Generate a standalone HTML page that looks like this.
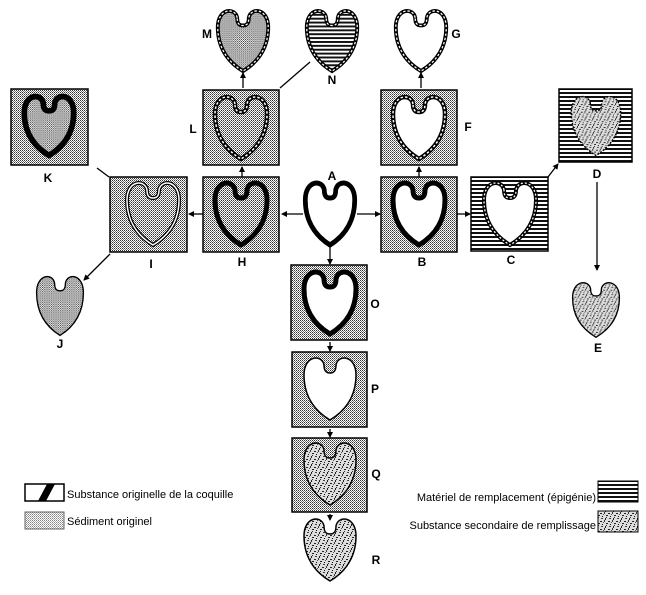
<!DOCTYPE html>
<html><head><meta charset="utf-8"><style>
html,body{margin:0;padding:0;background:#fff;}
svg{display:block;}
text{font-family:"Liberation Sans",sans-serif;}
.lbl{font-size:12px;font-weight:bold;text-anchor:middle;}
.leg{font-size:11px;}
</style></head><body>
<svg width="646" height="595" viewBox="0 0 646 595" xmlns="http://www.w3.org/2000/svg">
<defs>
<pattern id="st" width="2" height="2" patternUnits="userSpaceOnUse">
<rect width="2" height="2" fill="#fff"/><rect width="1" height="1" fill="#333"/><rect x="1" y="1" width="1" height="1" fill="#777"/>
</pattern>
<pattern id="hz" width="4" height="4" patternUnits="userSpaceOnUse">
<rect width="4" height="4" fill="#fff"/><rect width="4" height="2" fill="#111"/>
</pattern>
<pattern id="sp" width="8" height="8" patternUnits="userSpaceOnUse">
<rect width="8" height="8" fill="#ddd"/>
<rect x="0" y="1" width="2" height="1" fill="#222"/><rect x="4" y="0" width="1" height="2" fill="#333"/>
<rect x="6" y="3" width="2" height="1" fill="#222"/><rect x="2" y="4" width="1" height="1" fill="#111"/>
<rect x="1" y="6" width="2" height="1" fill="#444"/><rect x="5" y="6" width="1" height="2" fill="#222"/>
<rect x="3" y="2" width="1" height="1" fill="#555"/><rect x="6" y="5" width="1" height="1" fill="#333"/>
</pattern>
<marker id="ar" markerWidth="6" markerHeight="6" refX="5" refY="3" orient="auto" markerUnits="userSpaceOnUse">
<path d="M0,0 L6,3 L0,6 Z" fill="#000"/>
</marker>
<path id="h" d="M-6,-24 C-8,-35 -26,-34 -26,-14 C-26,12 -10,25 0,31 C10,25 26,12 26,-14 C26,-34 8,-35 6,-24 C6,-18 4,-16 0,-16 C-4,-16 -6,-18 -6,-24Z"/>
</defs>

<g stroke="#000" stroke-width="1.5">
<rect x="203" y="90" width="76" height="75" fill="url(#st)"/>
<rect x="381" y="90" width="76" height="75" fill="url(#st)"/>
<rect x="203" y="177" width="76" height="75" fill="url(#st)"/>
<rect x="381" y="177" width="76" height="75" fill="url(#st)"/>
<rect x="110" y="177" width="77" height="75" fill="url(#st)"/>
<rect x="11" y="89" width="77" height="76" fill="url(#st)"/>
<rect x="471" y="177" width="77" height="74" fill="url(#hz)"/>
<rect x="559" y="89" width="73" height="73" fill="url(#hz)"/>
<rect x="291" y="265" width="76" height="75" fill="url(#st)"/>
<rect x="292" y="352" width="75" height="75" fill="url(#st)"/>
<rect x="292" y="438" width="75" height="74" fill="url(#st)"/>
</g>

<g stroke="#000" stroke-width="5">
<use href="#h" transform="translate(330,214) scale(0.95,1)" fill="#fff"/>
<use href="#h" transform="translate(241,214)" fill="url(#st)"/>
<use href="#h" transform="translate(419,214)" fill="#fff"/>
<use href="#h" transform="translate(330,303)" fill="#fff"/>
<use href="#h" transform="translate(49,126) scale(0.95)" fill="url(#st)" stroke-width="6"/>
</g>
<g>
<use href="#h" transform="translate(241,128)" fill="url(#st)" stroke="#000" stroke-width="4.5"/>
<use href="#h" transform="translate(241,128)" fill="none" stroke="#fff" stroke-width="1.5" stroke-dasharray="2.5 2"/>
<use href="#h" transform="translate(419,128)" fill="#fff" stroke="#000" stroke-width="4.5"/>
<use href="#h" transform="translate(419,128)" fill="none" stroke="#fff" stroke-width="1.5" stroke-dasharray="2.5 2"/>
<use href="#h" transform="translate(243,41) scale(0.97)" fill="url(#st)" stroke="#000" stroke-width="4"/>
<use href="#h" transform="translate(243,41) scale(0.97)" fill="none" stroke="#fff" stroke-width="1.3" stroke-dasharray="2.5 2"/>
<use href="#h" transform="translate(421,41) scale(0.97)" fill="#fff" stroke="#000" stroke-width="4"/>
<use href="#h" transform="translate(421,41) scale(0.97)" fill="none" stroke="#fff" stroke-width="1.3" stroke-dasharray="2.5 2"/>
<use href="#h" transform="translate(332,41) scale(0.97)" fill="url(#hz)" stroke="#000" stroke-width="4"/>
<use href="#h" transform="translate(332,41) scale(0.97)" fill="none" stroke="#fff" stroke-width="1.3" stroke-dasharray="2.5 2"/>
<use href="#h" transform="translate(510,214)" fill="#fff" stroke="#000" stroke-width="4"/>
<use href="#h" transform="translate(510,214)" fill="none" stroke="#fff" stroke-width="1.3" stroke-dasharray="2 2"/>
<use href="#h" transform="translate(153,214)" fill="url(#st)" stroke="#000" stroke-width="4"/>
<use href="#h" transform="translate(153,214)" fill="none" stroke="#fff" stroke-width="1.5"/>
</g>
<use href="#h" transform="translate(330,389)" fill="#fff" stroke="#000" stroke-width="1.5"/>
<g stroke="#000" stroke-width="1.5" fill="url(#sp)">
<use href="#h" transform="translate(330,474)"/>
<use href="#h" transform="translate(330,550)"/>
<use href="#h" transform="translate(596,310) scale(0.9,0.88)"/>
<use href="#h" transform="translate(596,126) scale(0.95)" stroke-dasharray="2 1.5"/>
</g>
<use href="#h" transform="translate(60,306) scale(0.9,0.95)" fill="url(#st)" stroke="#000" stroke-width="1.5"/>

<g stroke="#000" stroke-width="1.3" fill="none" marker-end="url(#ar)">
<line x1="303" y1="214" x2="282" y2="214"/>
<line x1="357" y1="214" x2="380" y2="214"/>
<line x1="330" y1="247" x2="330" y2="264"/>
<line x1="242" y1="177" x2="242" y2="167"/>
<line x1="419" y1="177" x2="419" y2="167"/>
<line x1="243" y1="88" x2="243" y2="73"/>
<line x1="421" y1="88" x2="421" y2="73"/>
<line x1="203" y1="214" x2="189" y2="214"/>
<line x1="457" y1="214" x2="470" y2="214"/>
<line x1="110" y1="254" x2="84" y2="280"/>
<line x1="548" y1="177" x2="558" y2="164"/>
<line x1="597" y1="182" x2="597" y2="270"/>
<line x1="330" y1="342" x2="330" y2="351"/>
<line x1="330" y1="429" x2="330" y2="437"/>
<line x1="330" y1="514" x2="330" y2="520"/>
</g>
<g stroke="#000" stroke-width="1.3">
<line x1="280" y1="88" x2="310" y2="62"/>
<line x1="109" y1="177" x2="97" y2="168"/>
</g>

<g>
<text x="207" y="38" class="lbl">M</text>
<text x="332" y="84" class="lbl">N</text>
<text x="456" y="38" class="lbl">G</text>
<text x="193" y="133" class="lbl">L</text>
<text x="468" y="131" class="lbl">F</text>
<text x="48" y="182" class="lbl">K</text>
<text x="597" y="178" class="lbl">D</text>
<text x="332" y="180" class="lbl">A</text>
<text x="151" y="268" class="lbl">I</text>
<text x="242" y="266" class="lbl">H</text>
<text x="422" y="266" class="lbl">B</text>
<text x="511" y="264" class="lbl">C</text>
<text x="60" y="348" class="lbl">J</text>
<text x="598" y="352" class="lbl">E</text>
<text x="375" y="308" class="lbl">O</text>
<text x="375" y="393" class="lbl">P</text>
<text x="376" y="478" class="lbl">Q</text>
<text x="376" y="564" class="lbl">R</text>
</g>

<rect x="25" y="484" width="39" height="17" fill="#fff" stroke="#000" stroke-width="1.5"/>
<polygon points="38,501 46,501 55,484 47,484" fill="#000"/>
<rect x="25" y="512" width="39" height="17" fill="url(#st)" stroke="#000" stroke-width="1" opacity="0.6"/>
<text x="67" y="498" class="leg">Substance  originelle de la coquille</text>
<text x="67" y="525" class="leg">Sédiment  originel</text>
<text x="596" y="501" class="leg" text-anchor="end">Matériel  de  remplacement (épigénie)</text>
<text x="596" y="529" class="leg" text-anchor="end">Substance   secondaire  de   remplissage</text>
<rect x="598" y="481" width="40" height="21" fill="url(#hz)" stroke="#000" stroke-width="1"/>
<rect x="598" y="511" width="40" height="21" fill="url(#sp)" stroke="#000" stroke-width="1"/>
</svg>
</body></html>
